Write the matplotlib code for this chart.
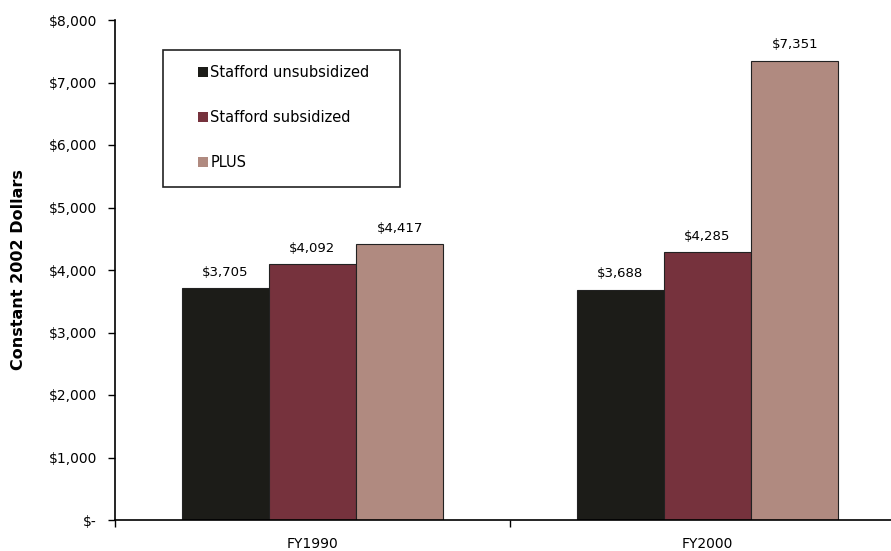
import numpy as np
import matplotlib.pyplot as plt
from matplotlib.patches import Rectangle
from matplotlib.ticker import FuncFormatter

plt.rcParams['font.family'] = ['DejaVu Sans']

years = ['FY1990', 'FY2000']
series = ['Stafford unsubsidized', 'Stafford subsidized', 'PLUS']
unsub = [3705, 3688]
sub = [4092, 4285]
plus = [4417, 7351]
colors = ['#1c1c18', '#76323d', '#b08a80']

fig = plt.figure(figsize=(8.91, 5.51), dpi=100)
ax = fig.add_axes([115/891, 31/551, 790/891, 500/551])

x = np.arange(len(years))
w = 0.221
for i, (vals, c, name) in enumerate(zip([unsub, sub, plus], colors, series)):
    ax.bar(x + (i - 1) * w, vals, w, color=c, edgecolor='#222222', linewidth=0.8, label=name)
    for xi, v in zip(x + (i - 1) * w, vals):
        ax.text(xi, v + 150, '${:,}'.format(v), ha='center', va='bottom', fontsize=9.5)

ax.set_xlim(-0.5, 1.5)
ax.set_ylim(0, 8000)
ax.set_yticks(np.arange(0, 8001, 1000))
ax.yaxis.set_major_formatter(FuncFormatter(lambda v, p: '$-' if v == 0 else '${:,.0f}'.format(v)))
ax.set_xticks([-0.5, 0.5, 1.5])
ax.set_xticklabels([])
ax.set_xticks(x, minor=True)
ax.set_xticklabels(years, minor=True, fontsize=10)
ax.tick_params(axis='x', which='minor', length=0, pad=12)
ax.tick_params(axis='x', which='major', length=5, width=1)
ax.tick_params(axis='y', length=5, width=1, labelsize=10, pad=8)
for s in ['top', 'right']:
    ax.spines[s].set_visible(False)
ax.spines['left'].set_linewidth(1.2)
ax.spines['bottom'].set_linewidth(1.2)
ax.set_ylabel('Constant 2002 Dollars', fontsize=11.5, fontweight='bold', labelpad=16)

# legend box drawn separately so the padding can differ left/right
ax.add_patch(Rectangle((163/891, 1 - 187/551), 237/891, 137/551, transform=fig.transFigure,
                       facecolor='white', edgecolor='#222222', linewidth=1.2, zorder=5, clip_on=False))
leg = ax.legend(loc='upper left', bbox_to_anchor=(198/891, 1 - 65/551), bbox_transform=fig.transFigure,
                fontsize=10.5, frameon=False, handlelength=0.7, handleheight=0.7,
                handletextpad=0.15, labelspacing=2.05, borderpad=0, borderaxespad=0)
leg.set_zorder(6)
for h in leg.legend_handles:
    h.set_linewidth(0)
leg._legend_box.align = 'left'

fig.savefig('out.png', dpi=100)
